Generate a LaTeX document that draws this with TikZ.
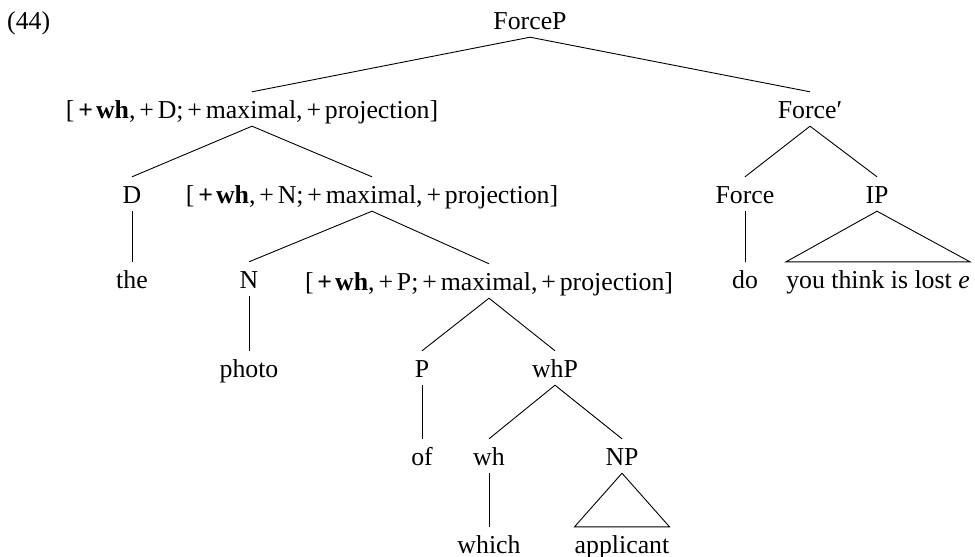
\documentclass[tikz,border=0pt]{standalone}
\usepackage{fontspec}
\setmainfont{Liberation Serif}
\newcommand{\pl}{\kern0.15em+\kern0.15em}
\newcommand{\bwh}{\kern0.15em\textbf{+\kern0.12em wh}}
\begin{document}
\begin{tikzpicture}[x=1pt,y=-1pt,
  lab/.style={anchor=base, inner sep=0pt, text height=26pt, text depth=8pt,
    font=\fontsize{25.8}{30}\selectfont},
  edge/.style={line width=0.9pt, line join=miter}]
\useasboundingbox (0,0) rectangle (975,557);
% labels
\node[lab, anchor=base west] (ex) at (7,29) {(44)};
\node[lab] (forcep) at (530,29) {ForceP};
\node[lab] (featd) at (252,118) {[\bwh,\pl D;\pl maximal,\pl projection]};
\node[lab] (forcebar) at (810,118) {Force′};
\node[lab] (d) at (132,203) {D};
\node[lab] (featn) at (372,203) {[\bwh,\pl N;\pl maximal,\pl projection]};
\node[lab] (force) at (745,203) {Force};
\node[lab] (ip) at (877,203) {IP};
\node[lab] (the) at (132,288) {the};
\node[lab] (n) at (249,288) {N};
\node[lab] (featp) at (489,290) {[\bwh,\pl P;\pl maximal,\pl projection]};
\node[lab] (do) at (745,288) {do};
\node[lab] (ipt) at (878,288) {you think is lost \textit{e}};
\node[lab] (photo) at (249,377) {photo};
\node[lab] (p) at (422,377) {P};
\node[lab] (whp) at (555,377) {whP};
\node[lab] (of) at (422,465) {of};
\node[lab] (wh) at (489,465) {wh};
\node[lab] (np) at (622,465) {NP};
\node[lab] (which) at (489,553) {which};
\node[lab] (appl) at (622,553) {applicant};
% branches
\draw[edge] (featd.north) -- (forcep.south) -- (forcebar.north);
\draw[edge] (d.north) -- (featd.south) -- (featn.north);
\draw[edge] (force.north) -- (forcebar.south) -- (ip.north);
\draw[edge] (d.south) -- (the.north);
\draw[edge] (force.south) -- (do.north);
\draw[edge] (n.north) -- (featn.south) -- (featp.north);
\draw[edge] (n.south) -- (photo.north);
\draw[edge] (p.north) -- (featp.south) -- (whp.north);
\draw[edge] (p.south) -- (of.north);
\draw[edge] (wh.north) -- (whp.south) -- (np.north);
\draw[edge] (wh.south) -- (which.north);
% triangles
\draw[edge] (ip.south) -- (ipt.north west) -- (ipt.north east) -- cycle;
\draw[edge] (np.south) -- (appl.north west) -- (appl.north east) -- cycle;
\end{tikzpicture}
\end{document}
